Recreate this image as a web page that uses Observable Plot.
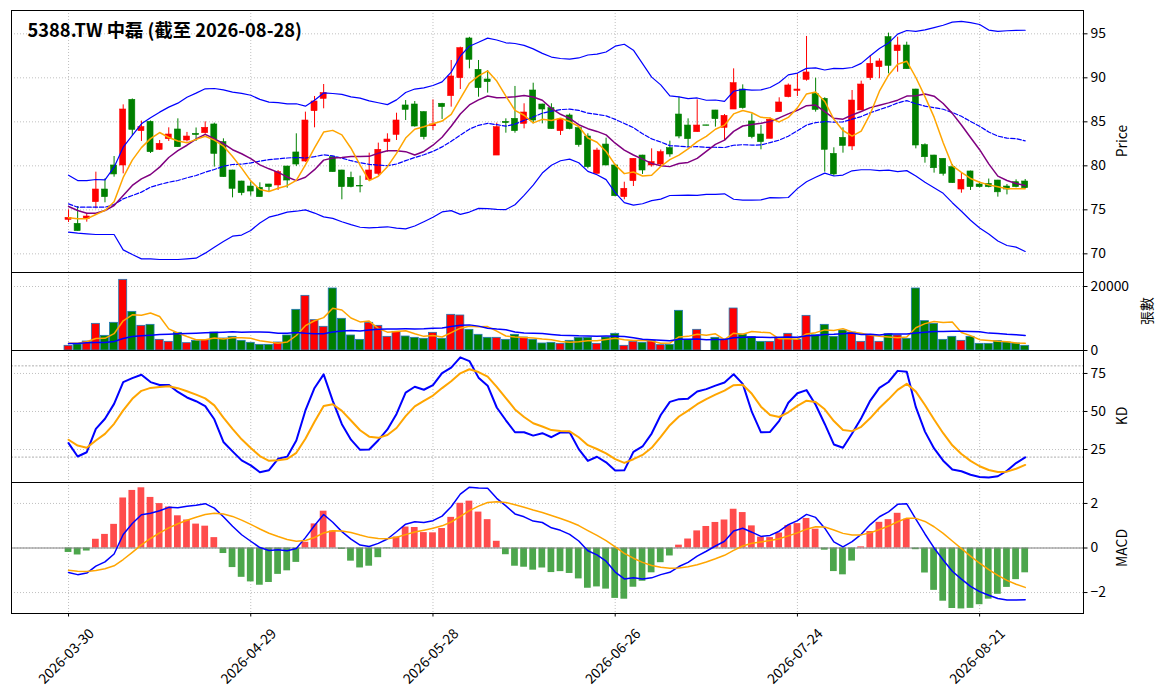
<!DOCTYPE html>
<html><head><meta charset="utf-8">
<script src="https://cdn.jsdelivr.net/npm/d3@7"></script>
<script src="https://cdn.jsdelivr.net/npm/@observablehq/plot@0.6"></script>
<style>
body{margin:0;background:#fff;}
#fig{position:relative;width:1164px;height:698px;background:#fff;font-family:"Noto Sans CJK TC","Noto Sans",sans-serif;}
#fig svg{position:absolute;left:0;}
</style></head><body><div id="fig"></div>
<script>
const title = "5388.TW 中磊 (截至 2026-08-28)";
const tickIndex = [0, 20, 40, 60, 80, 100];
const tickLabels = ["2026-03-30", "2026-04-29", "2026-05-28", "2026-06-26", "2026-07-24", "2026-08-21"];

const opens = [73.86,73.41,73.94,75.87,77.31,80.04,80.04,87.5,83.94,85.0,
 81.82,83.03,84.13,82.88,83.64,83.71,84.7,82.69,79.47,78.22,
 77.65,77.5,77.88,77.77,79.92,81.52,80.49,86.21,87.61,80.98,
 79.47,78.64,77.7,78.41,79.09,82.69,83.52,86.86,86.97,86.1,
 84.5,87.05,87.92,89.96,94.47,90.91,89.81,81.17,85.0,85.34,
 84.77,88.56,86.97,86.55,83.94,85.72,84.28,83.33,79.09,82.42,
 80.04,76.44,78.26,81.17,80.04,80.15,82.01,85.83,84.58,83.83,
 84.6,86.29,84.32,86.4,88.67,85.04,83.56,83.07,86.1,87.8,
 88.52,89.77,88.18,87.61,81.36,83.18,82.2,86.29,89.96,91.21,
 94.62,93.03,93.67,88.67,82.35,81.17,80.8,79.85,77.31,79.36,
 77.88,77.95,78.33,77.65,78.14,78.22];
const highs = [75.0,75.38,74.6,79.28,78.52,81.06,86.93,87.6,85.08,85.1,
 82.88,84.32,85.34,83.8,84.3,85.0,84.85,83.07,79.5,78.25,
 78.15,78.07,77.9,79.47,79.95,83.64,86.1,87.88,89.24,81.0,
 79.5,79.28,78.83,81.44,82.58,83.64,85.98,87.42,87.31,86.15,
 87.5,87.1,91.97,93.48,94.6,91.97,90.83,84.85,85.34,89.02,
 87.05,89.39,87.0,87.05,85.3,85.9,84.3,83.64,82.0,83.14,
 80.1,78.14,80.8,81.2,81.93,81.8,82.8,87.8,85.34,87.5,
 84.6,86.3,85.83,91.02,89.2,85.9,84.6,85.45,87.73,89.3,
 90.45,94.7,89.96,87.73,82.05,84.32,88.56,89.62,92.54,92.16,
 95.08,94.62,94.05,88.7,82.5,81.2,80.8,80.15,79.17,79.4,
 78.14,78.5,78.35,77.88,78.41,78.45];
const lows = [73.56,72.58,73.6,75.11,75.8,78.71,79.09,83.45,82.77,81.4,
 81.75,82.77,82.1,82.7,82.77,83.6,79.85,78.7,76.36,76.6,
 76.55,76.44,77.0,77.2,77.46,79.92,80.4,84.32,86.48,79.28,
 76.14,77.5,76.93,78.26,78.9,81.55,82.88,85.15,84.4,82.95,
 84.02,85.27,86.67,88.67,91.02,87.8,88.26,81.17,83.71,83.71,
 84.2,84.77,84.77,84.17,83.45,84.1,82.12,79.66,79.09,80.0,
 76.5,76.14,77.65,79.02,79.85,80.04,80.98,83.07,82.12,83.8,
 84.55,84.4,82.88,86.4,86.44,83.07,81.82,83.07,86.1,87.73,
 87.88,89.62,86.1,79.28,78.8,81.44,81.74,86.29,89.7,89.89,
 90.45,90.64,90.98,81.93,80.3,79.17,78.83,78.0,76.89,77.2,
 77.5,77.5,76.44,76.7,77.5,77.4];
const closes = [74.09,72.58,74.24,77.31,76.44,79.02,86.4,84.09,84.39,81.55,
 82.5,83.56,82.12,83.33,83.5,84.32,81.36,78.71,77.39,76.9,
 77.08,76.44,77.58,79.28,78.33,80.15,85.15,87.31,88.26,79.28,
 77.58,77.58,77.65,79.47,81.82,82.99,85.15,86.36,84.47,83.26,
 84.7,86.67,90.15,93.37,92.05,88.83,89.51,84.39,84.85,83.94,
 86.06,85.15,86.4,84.17,85.27,84.17,82.35,79.85,81.74,80.04,
 76.55,77.39,80.8,79.47,80.42,81.55,81.29,83.33,83.03,84.58,
 84.55,85.3,85.68,89.39,86.55,83.26,82.69,85.23,87.2,89.13,
 88.67,90.61,86.36,81.82,79.02,82.27,87.42,89.24,91.59,91.86,
 91.36,93.67,90.98,82.31,80.98,79.73,79.09,78.03,78.41,77.58,
 77.58,77.58,76.99,77.31,77.58,77.46];
const volumes = [1460,1875,2810,8330,4580,8650,22080,12080,7710,8020,
 3330,2710,5520,2290,3020,3230,5625,3750,4270,3020,
 2400,1770,1770,2500,4690,12710,17080,9480,7400,19375,
 9900,4690,3330,8650,7710,4270,5830,4375,3960,3650,
 5520,3650,11150,10940,6460,4900,3960,3960,3330,4900,
 4060,3330,2190,2400,2080,3020,3960,3960,2080,4060,
 5210,1460,2710,2400,3020,1670,1770,12400,3230,6460,
 0,3960,3440,13125,5000,4170,2710,2710,3750,5210,
 3330,10830,4790,8020,4270,6250,5625,2710,4900,2710,
 5100,4690,3650,19375,9170,8330,3330,4270,3020,4270,
 2080,2080,2920,2500,2190,1460];

// Indicator values at the start of the window (history before the first bar is not shown)
const ma5Start = [74.09,73.98,73.98,74.47];
const ma10Start = [75.38,74.92,74.62,74.62,74.92,75.49,76.63,77.77,78.52];
const ma20Start = [75.68,75.3,75.3,75.3,75.3,75.61,76.25,76.63,77.01,77.58,77.88,78.14,78.33,78.64,78.9,79.28,79.58,79.96,80.15];
const bbUpperStart = [78.94,78.33,78.33,78.45,78.41,79.85,82.12,83.45,84.77,85.45,86.1,86.67,87.12,87.8,88.26,88.75,88.79,88.64,88.37];
const bbLowerStart = [72.46,72.35,72.27,72.2,72.2,72.2,70.45,69.92,69.43,69.43,69.36,69.36,69.36,69.43,69.51,70.08,70.76,71.4,72.01];
const volMa5Start = [2290,2290,2710,3750];
const volMa20Start = [2190,2190,2400,2500,2500,2810,3750,4380,4580,4790,5000,5100,5210,5310,5420,5520,5630,5730,5830];
const kStart = [29.2,20.4,23.2,38.6,45.2,55.0,69.3,71.9];
const dStart = [31.4,27.6,26.1,30.9,35.3,41.9,50.7,58.3];
const ema12Start = 74.8, ema26Start = 75.9, signalStart = -1.0;

const N = closes.length;
const idx = d3.range(N);
const rolling = (arr, n, start, fn) => idx.map(i => i < n - 1 ? start[i] : fn(arr.slice(i - n + 1, i + 1)));
const ma5 = rolling(closes, 5, ma5Start, d3.mean);
const ma10 = rolling(closes, 10, ma10Start, d3.mean);
const ma20 = rolling(closes, 20, ma20Start, d3.mean);
const sd20 = idx.map(i => i < 19 ? null : d3.deviation(closes.slice(i - 19, i + 1)));
const bbUp = idx.map(i => i < 19 ? bbUpperStart[i] : ma20[i] + 2 * sd20[i]);
const bbLo = idx.map(i => i < 19 ? bbLowerStart[i] : ma20[i] - 2 * sd20[i]);
const vma5 = rolling(volumes, 5, volMa5Start, d3.mean);
const vma20 = rolling(volumes, 20, volMa20Start, d3.mean);
const K = [], D = [];
idx.forEach(i => {
  if (i < kStart.length) { K[i] = kStart[i]; D[i] = dStart[i]; return; }
  const hh = d3.max(highs.slice(i - 8, i + 1)), ll = d3.min(lows.slice(i - 8, i + 1));
  const rsv = hh === ll ? 50 : (closes[i] - ll) / (hh - ll) * 100;
  K[i] = K[i - 1] * 2 / 3 + rsv / 3;
  D[i] = D[i - 1] * 2 / 3 + K[i] / 3;
});
const DIF = [], SIG = [], HIST = [];
let e12 = ema12Start, e26 = ema26Start;
idx.forEach(i => {
  if (i > 0) { e12 += 2 / 13 * (closes[i] - e12); e26 += 2 / 27 * (closes[i] - e26); }
  DIF[i] = e12 - e26;
  SIG[i] = i === 0 ? signalStart : SIG[i - 1] + 0.2 * (DIF[i] - SIG[i - 1]);
  HIST[i] = 2 * (DIF[i] - SIG[i]);
});
const rows = idx.map(i => ({
  i, o: opens[i], h: highs[i], l: lows[i], c: closes[i], v: volumes[i],
  col: closes[i] >= opens[i] ? "red" : "green",
  ma5: ma5[i], ma10: ma10[i], ma20: ma20[i], up: bbUp[i], lo: bbLo[i],
  vma5: vma5[i], vma20: vma20[i], k: K[i], d: D[i], dif: DIF[i], sig: SIG[i], hist: HIST[i]
}));

const fig = document.getElementById("fig");
const FONT = '"Noto Sans CJK TC","Noto Sans",sans-serif';
const xDomain = [-6.26, 111.4];
const grid = {stroke: "#b0b0b0", strokeOpacity: 1, strokeWidth: 0.8, strokeDasharray: "1,2"};

function panel({top, height, mt, mb, yDomain, yTicks, marks, tickFormat, xAxis}) {
  const p = Plot.plot({
    width: 1164, height, marginLeft: 11, marginRight: 81, marginTop: mt, marginBottom: mb,
    style: {background: "transparent", overflow: "visible", fontFamily: FONT, fontSize: "13.9px", color: "#000"},
    x: {domain: xDomain, axis: xAxis ? undefined : null, label: null},
    y: {domain: yDomain, label: null},
    marks: [
      Plot.gridX(tickIndex, grid),
      Plot.gridY(yTicks, grid),
      ...marks,
      Plot.axisY(yTicks, {anchor: "right", tickSize: 3.5, tickPadding: 3.5, label: null, tickFormat: tickFormat || (d => String(d)), fontSize: 13.9}),
      ...(xAxis || []),
      Plot.frame({stroke: "black", strokeWidth: 1})
    ]
  });
  p.style.top = (top - mt) + "px";
  fig.append(p);
}

// Price panel
panel({
  top: 10, height: 262 + 10, mt: 10, mb: 0, yDomain: [67.88, 97.65], yTicks: [70, 75, 80, 85, 90, 95],
  marks: [
    Plot.ruleX(rows, {x: "i", y1: "l", y2: "h", stroke: "col", strokeWidth: 1}),
    Plot.rect(rows, {x1: d => d.i - 0.33, x2: d => d.i + 0.33, y1: d => Math.min(d.o, d.c), y2: d => Math.max(d.o, d.c), fill: "col", stroke: "col", strokeWidth: 0.6}),
    Plot.line(rows, {x: "i", y: "up", stroke: "blue", strokeWidth: 1.2}),
    Plot.line(rows, {x: "i", y: "lo", stroke: "blue", strokeWidth: 1.2}),
    Plot.line(rows, {x: "i", y: "ma20", stroke: "blue", strokeWidth: 1.2, strokeDasharray: "4.4,1.9"}),
    Plot.line(rows, {x: "i", y: "ma10", stroke: "purple", strokeWidth: 1.5}),
    Plot.line(rows, {x: "i", y: "ma5", stroke: "orange", strokeWidth: 1.5}),
    Plot.text([title], {frameAnchor: "top-left", text: d => d, dx: 16, dy: 21, lineAnchor: "middle", textAnchor: "start", fontSize: 18.3, fontWeight: "bold", fill: "black"})
  ]
});

// Volume panel
panel({
  top: 272, height: 78 + 2, mt: 1, mb: 1, yDomain: [0, 24375], yTicks: [0, 20000],
  marks: [
    Plot.rect(rows.filter(d => d.v > 0), {x1: d => d.i - 0.44, x2: d => d.i + 0.44, y1: 0, y2: "v", fill: "col", stroke: "#1f77b4", strokeWidth: 0.8}),
    Plot.line(rows, {x: "i", y: "vma5", stroke: "orange", strokeWidth: 1.5}),
    Plot.line(rows, {x: "i", y: "vma20", stroke: "blue", strokeWidth: 1.5})
  ]
});

// KD panel
panel({
  top: 350, height: 132 + 2, mt: 1, mb: 1, yDomain: [3.3, 90.1], yTicks: [25, 50, 75],
  marks: [
    Plot.ruleY([20, 80], {stroke: "#999", strokeWidth: 0.8, strokeDasharray: "2,1.5"}),
    Plot.line(rows, {x: "i", y: "k", stroke: "blue", strokeWidth: 2}),
    Plot.line(rows, {x: "i", y: "d", stroke: "orange", strokeWidth: 2})
  ]
});

// MACD panel
panel({
  top: 482, height: 131 + 1 + 85, mt: 1, mb: 85, yDomain: [-2.94, 2.94], yTicks: [-2, 0, 2],
  tickFormat: d => d < 0 ? "\u2212" + Math.abs(d) : String(d),
  marks: [
    Plot.rect(rows, {x1: d => d.i - 0.37, x2: d => d.i + 0.37, y1: 0, y2: "hist", fill: d => d.hist >= 0 ? "#ff4c4c" : "#4ca64c"}),
    Plot.ruleY([0], {stroke: "#808080", strokeWidth: 1}),
    Plot.line(rows, {x: "i", y: "dif", stroke: "blue", strokeWidth: 1.5}),
    Plot.line(rows, {x: "i", y: "sig", stroke: "orange", strokeWidth: 1.5})
  ],
  xAxis: [
    Plot.axisX(tickIndex, {anchor: "bottom", tickSize: 3.5, label: null, tickFormat: () => ""}),
    Plot.text(tickIndex, {x: d => d, text: (d, j) => tickLabels[j], frameAnchor: "bottom", lineAnchor: "middle", textAnchor: "middle", rotate: -45, dy: 43, dx: -2, fontSize: 13.9, fill: "black"})
  ]
});

// Right-side axis labels
const ov = d3.create("svg").attr("width", 1164).attr("height", 698).style("top", "0px").style("pointer-events", "none")
  .attr("font-family", FONT).attr("font-size", 13.9);
[["Price", 1121, 141], ["張數", 1146, 311], ["KD", 1121, 416], ["MACD", 1121, 548]].forEach(([t, x, y]) => {
  ov.append("text").attr("transform", `translate(${x},${y}) rotate(-90)`).attr("text-anchor", "middle")
    .attr("dominant-baseline", "central").attr("fill", "black").text(t);
});
fig.append(ov.node());
</script>
</body></html>
